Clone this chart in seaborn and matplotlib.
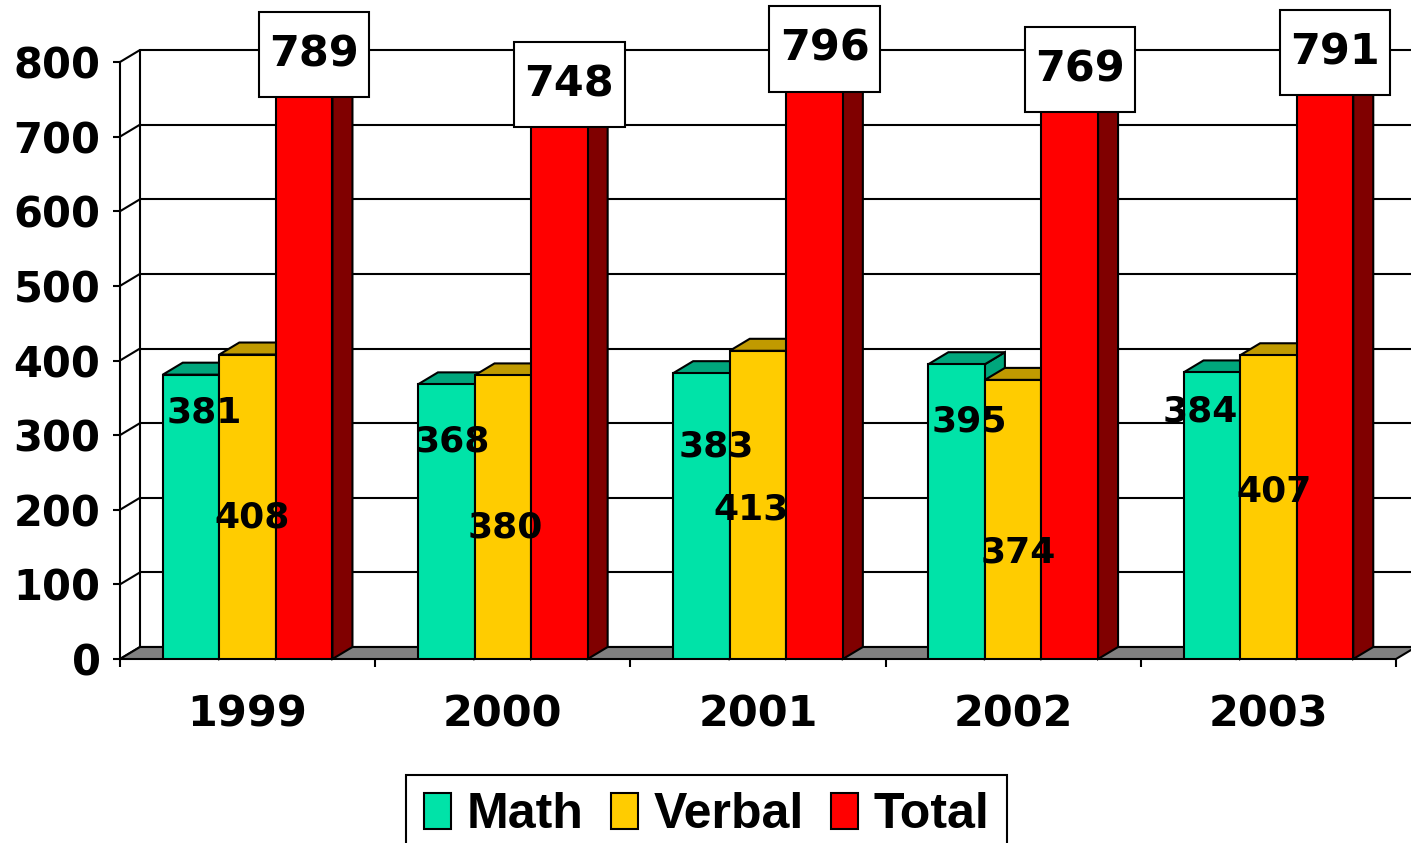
import numpy as np
import pandas as pd
import matplotlib
matplotlib.use("Agg")
import matplotlib.pyplot as plt
from matplotlib.patches import Polygon, Patch
from matplotlib.path import Path
import seaborn as sns

# ---- data ----
years = ["1999", "2000", "2001", "2002", "2003"]
series = ["Math", "Verbal", "Total"]
math_scores = [381, 368, 383, 395, 384]
verbal_scores = [408, 380, 413, 374, 407]
total_scores = [789, 748, 796, 769, 791]

# label placement (layout, in data units)
math_label_dx = [0.05, 0.024, 0.06, 0.05, -0.047]
math_label_y = [330, 292, 285, 318, 332]
verbal_label_dx = [0.016, 0.008, -0.027, 0.02, 0.024]
verbal_label_y = [190, 176, 201, 143, 225]

front_colors = ["#00E3A8", "#FFCC00", "#FF0000"]
dark_colors = ["#00A67C", "#C09A00", "#800000"]

sns.set_style("white")
plt.rcParams["font.family"] = ["DejaVu Sans"]
plt.rcParams["font.weight"] = "bold"
plt.rcParams["text.color"] = "black"
plt.rcParams["xtick.color"] = "black"
plt.rcParams["ytick.color"] = "black"
plt.rcParams["axes.labelcolor"] = "black"

W, H = 1411, 843
fig = plt.figure(figsize=(W / 100, H / 100), dpi=100)
ax = fig.add_axes([120 / W, 184 / H, 1276 / W, 597 / H])

df = pd.DataFrame({
    "Year": years * 3,
    "Series": [s for s in series for _ in years],
    "Score": math_scores + verbal_scores + total_scores,
})

sns.barplot(data=df, x="Year", y="Score", hue="Series", hue_order=series,
            palette=front_colors, width=0.665, gap=0, saturation=1,
            edgecolor="black", linewidth=1.5, errorbar=None, legend=False, ax=ax)

ax.set_xlim(-0.5, 4.5)
ax.set_ylim(0, 800)

# depth offsets in data units (20 px right, 12 px up)
dxd = 20 / (1276 / 5)
dyd = 12 / (597 / 800)


def label_box(x0, y0, width, height, mutation_size):
    px = 0.24 * mutation_size
    py = 0.5 * mutation_size
    x0, y0 = x0 - px, y0 - py
    x1, y1 = x0 + width + 2 * px, y0 + height + 2 * py
    return Path([(x0, y0), (x1, y0), (x1, y1), (x0, y1), (x0, y0)], closed=True)


# back wall gridlines + diagonals
for v in range(0, 801, 100):
    ax.plot([-0.5 + dxd, 4.5 + dxd * 2], [v + dyd, v + dyd], color="black", lw=1.5,
            zorder=0.5, clip_on=False)
    ax.plot([-0.5, -0.5 + dxd], [v, v + dyd], color="black", lw=1.5, zorder=0.5, clip_on=False)
ax.plot([-0.5 + dxd, -0.5 + dxd], [dyd, 800 + dyd], color="black", lw=1.5, zorder=0.5, clip_on=False)

# floor
floor = Polygon([(-0.5, 0), (4.5, 0), (4.5 + dxd, dyd), (-0.5 + dxd, dyd)], closed=True,
                fc="#808080", ec="black", lw=1.5, zorder=1, clip_on=False)
ax.add_patch(floor)

# 3D faces
for j, cont in enumerate(ax.containers):
    for i, bar in enumerate(cont.patches):
        k = i * 3 + j
        x0, w, h = bar.get_x(), bar.get_width(), bar.get_height()
        bar.set_zorder(3 + k * 0.1 + 0.05)
        side = Polygon([(x0 + w, 0), (x0 + w, h), (x0 + w + dxd, h + dyd), (x0 + w + dxd, dyd)],
                       closed=True, fc=dark_colors[j], ec="black", lw=1.5,
                       zorder=3 + k * 0.1, clip_on=False)
        top = Polygon([(x0, h), (x0 + w, h), (x0 + w + dxd, h + dyd), (x0 + dxd, h + dyd)],
                      closed=True, fc=dark_colors[j], ec="black", lw=1.5,
                      zorder=3 + k * 0.1, clip_on=False)
        ax.add_patch(side)
        ax.add_patch(top)
        cx = x0 + w / 2
        if j == 0:
            ax.text(cx + math_label_dx[i], math_label_y[i], f"{int(h)}", ha="center", va="center",
                    fontsize=26, fontweight="bold", zorder=20)
        elif j == 1:
            ax.text(cx + verbal_label_dx[i], verbal_label_y[i], f"{int(h)}", ha="center", va="center",
                    fontsize=26, fontweight="bold", zorder=20)
        else:
            ax.annotate(f"{int(h)}", xy=(cx + dxd / 2, h + dyd / 2), xytext=(0, 10),
                        textcoords="offset pixels", ha="center", va="center",
                        fontsize=31, fontweight="bold", zorder=20, annotation_clip=False,
                        bbox=dict(boxstyle=label_box, fc="white", ec="black", lw=1.5))

# axes styling
for s in ["top", "right", "bottom"]:
    ax.spines[s].set_visible(False)
ax.spines["left"].set_linewidth(1.5)
ax.spines["left"].set_color("black")
ax.spines["left"].set_zorder(2)
ax.set_yticks(range(0, 801, 100))
ax.tick_params(axis="y", direction="out", length=5, width=1.5, pad=9, labelsize=30, left=True)
for t in ax.get_yticklabels():
    t.set_fontweight("bold")
ax.set_xticks(range(5))
ax.set_xticklabels(years)
ax.set_xticks(np.arange(-0.5, 5, 1), minor=True)
ax.tick_params(axis="x", which="major", length=0, pad=25, labelsize=31)
ax.tick_params(axis="x", which="minor", length=6, width=1.5, direction="out", bottom=True)
for t in ax.get_xticklabels():
    t.set_fontweight("bold")
ax.set_xlabel("")
ax.set_ylabel("")
ax.set_facecolor("none")

handles = [Patch(fc=c, ec="black", lw=1.5) for c in front_colors]
leg = fig.legend(handles, series, loc="upper center", bbox_to_anchor=(706.5 / W, (H - 775) / H),
                 ncol=3, prop={"family": "Liberation Sans", "weight": "bold", "size": 36},
                 frameon=True, fancybox=False, edgecolor="black", framealpha=1,
                 handlelength=0.55, handleheight=0.75, handletextpad=0.3,
                 columnspacing=0.55, borderpad=0.35, borderaxespad=0)
leg.get_frame().set_linewidth(1.5)

fig.savefig("out.png", dpi=100)
